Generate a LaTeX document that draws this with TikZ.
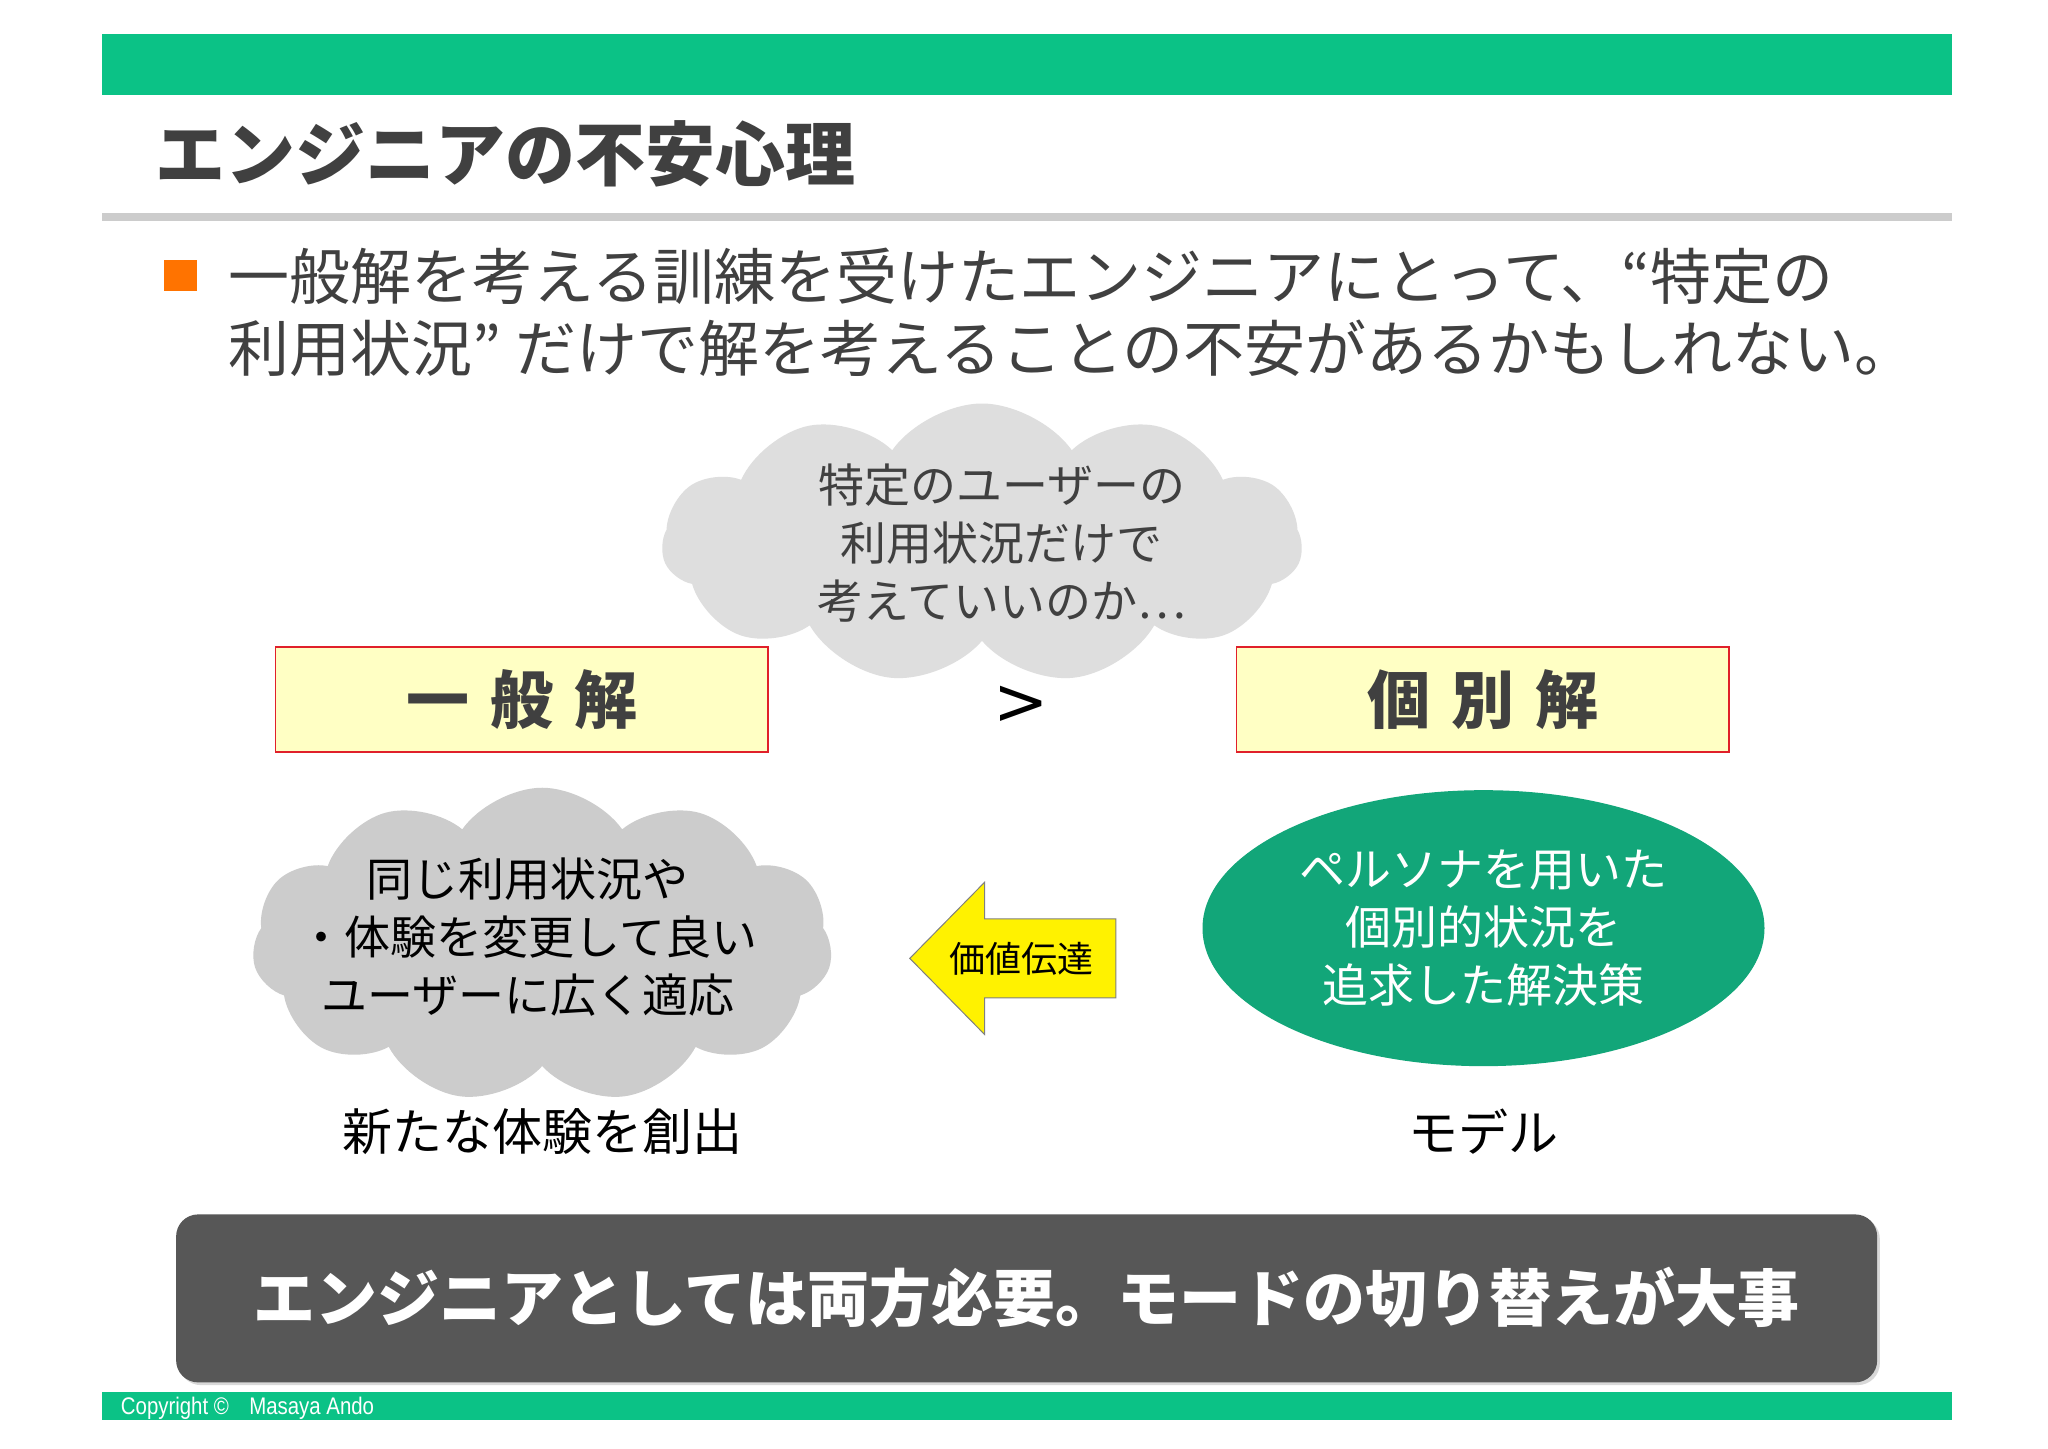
\documentclass[tikz,border=0pt]{standalone}
\usepackage{fontspec}
\setmainfont{Noto Sans CJK JP}
\newfontfamily\cpfont{Liberation Sans}
\newfontfamily\ltfont{DejaVu Sans}
\usetikzlibrary{shapes.symbols,shapes.geometric,shadows}
\definecolor{topgreen}{HTML}{0BC286}
\definecolor{elgreen}{HTML}{12A679}
\definecolor{txt}{HTML}{404040}
\definecolor{boxyel}{HTML}{FFFFC4}
\definecolor{boxred}{HTML}{E0202A}
\tikzset{
 solbox/.style={draw=boxred,line width=1.5pt,fill=boxyel,minimum width=492.3pt,minimum height=105pt,inner sep=0pt,font=\bfseries\fontsize{63pt}{76pt}\selectfont,text=txt},
 mycloud/.style={cloud,cloud puffs=11,cloud puff arc=110,aspect=2,fill=#1,draw=none,inner sep=0pt},
 ctext/.style={font=\fontsize{46pt}{58pt}\selectfont,align=center},
}
\begin{document}
\begin{tikzpicture}[x=1.3128pt,y=-1.3128pt]
\useasboundingbox (0,0) rectangle (1560,1103);
\fill[white] (0,0) rectangle (1560,1103);
\fill[topgreen] (78,26) rectangle (1487,72);
\node[anchor=west,font=\bfseries\fontsize{70pt}{84pt}\selectfont,text=txt] (title) at (116,117) {エンジニアの不安心理};
\fill[black!20] (78,162) rectangle (1487,168);
\fill[orange!90!red] (125,198) rectangle (150,222);
\node[anchor=west,font=\fontsize{61pt}{72pt}\selectfont,text=txt,align=left,inner sep=0pt] (bullet) at (174,238) {一般解を考える訓練を受けたエンジニアにとって、“特定の\\利用状況” だけで解を考えることの不安があるかもしれない。};
\node[mycloud=black!13,minimum width=640,minimum height=280] (c1) at (748,414) {};
\node[ctext,text=txt] (c1t) at (763,414) {特定のユーザーの\\利用状況だけで\\考えていいのか…};
\node[solbox] (b1) at (397.5,533) {一\,\,般\,\,解};
\node[solbox] (b2) at (1129.5,533) {個\,\,別\,\,解};
\node[font=\ltfont\fontsize{66pt}{70pt}\selectfont,text=black] (gt) at (778,537) {>};
\node[mycloud=black!20,minimum width=580,minimum height=315] (c2) at (413,720) {};
\node[ctext,text=black] (c2t) at (402,714) {同じ利用状況や\\・体験を変更して良い\\ユーザーに広く適応};
\node[inner sep=0pt,minimum size=1pt] (arr) at (772,730) {};
\filldraw[fill=yellow,draw=black!50,line width=1pt] (693,730) -- (750,672) -- (750,700) -- (850,700) -- (850,760) -- (750,760) -- (750,788) -- cycle;
\node[font=\fontsize{36pt}{40pt}\selectfont,text=black] (arrt) at (778,730) {価値伝達};
\node[ellipse,fill=elgreen,minimum width=562pt,minimum height=276pt,inner sep=0pt] (el) at (1130,707) {};
\node[ctext,text=white] (elt) at (1130,707) {ペルソナを用いた\\個別的状況を\\追求した解決策};
\node[font=\fontsize{50pt}{60pt}\selectfont,text=black] (l1) at (413,862) {新たな体験を創出};
\node[font=\fontsize{50pt}{60pt}\selectfont,text=black] (l2) at (1130,862) {モデル};
\node[fill=black!66,rounded corners=22pt,minimum width=1701pt,minimum height=168pt,drop shadow={opacity=0.3},inner sep=0pt] (bot) at (782,989) {};
\node[font=\bfseries\fontsize{62pt}{72pt}\selectfont,text=white] (bott) at (782,988) {エンジニアとしては両方必要。モードの切り替えが大事};
\fill[topgreen] (78,1060) rectangle (1487,1082);
\node[anchor=west,text=white,font=\cpfont\fontsize{24pt}{28pt}\selectfont,inner sep=0pt,xscale=0.85] (cp) at (92,1073) {Copyright ©\quad Masaya Ando};
\end{tikzpicture}
\end{document}
